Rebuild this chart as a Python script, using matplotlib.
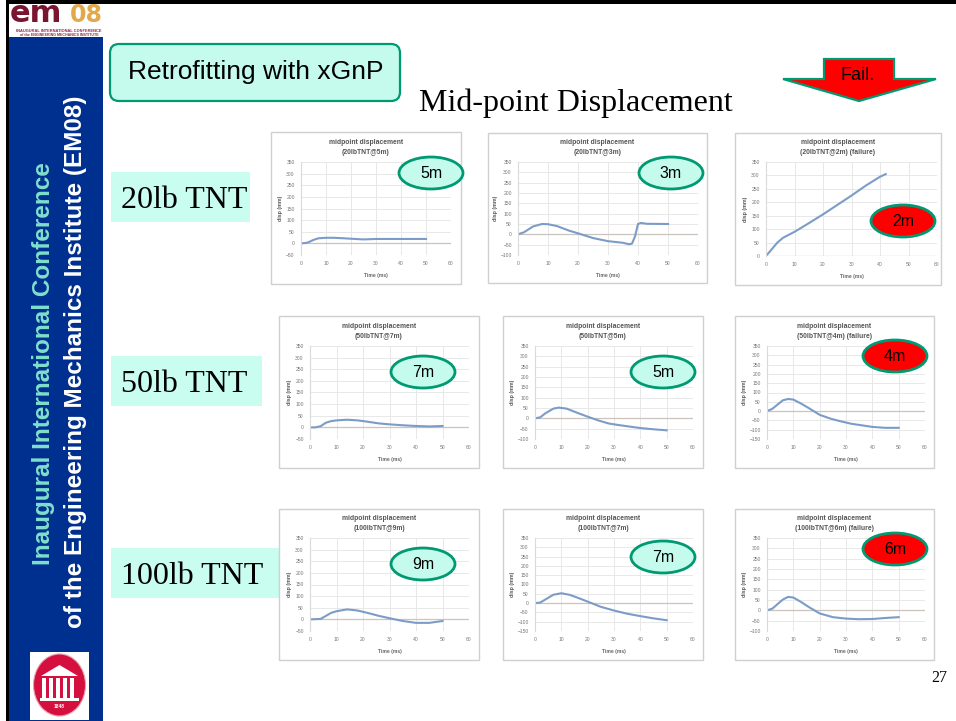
import matplotlib

matplotlib.use("Agg")

import matplotlib.pyplot as plt
from matplotlib.patches import Ellipse, FancyBboxPatch, Polygon, Rectangle

W, H = 956, 721

# data, time in ms / displacement in mm
t_20_5 = [0, 2, 3, 5, 7, 10, 13, 17, 20, 25, 30, 40, 50]
d_20_5 = [0, 2, 5, 15, 22, 24, 24, 22, 20, 17, 19, 19, 19]
t_20_3 = [0, 2, 5, 8, 10, 13, 17, 20, 25, 30, 35, 37, 38, 39, 40, 41, 43, 50]
d_20_3 = [0, 10, 38, 50, 49, 40, 18, 5, -18, -33, -41, -48, -45, -10, 50, 55, 51, 50]
t_20_2 = [0, 2, 4, 6, 10, 15, 20, 25, 30, 35, 40, 42]
d_20_2 = [0, 25, 50, 68, 90, 122, 155, 190, 225, 262, 295, 305]
t_50_7 = [0, 2, 4, 6, 8, 10, 14, 18, 22, 26, 30, 35, 40, 45, 50]
d_50_7 = [0, 0, 5, 20, 27, 30, 33, 30, 24, 17, 13, 9, 6, 4, 6]
t_50_5 = [0, 2, 4, 7, 9, 12, 16, 20, 24, 28, 32, 40, 45, 50]
d_50_5 = [0, 5, 25, 47, 52, 47, 27, 8, -10, -25, -33, -47, -53, -58]
t_50_4 = [0, 2, 4, 6, 8, 10, 13, 16, 20, 24, 28, 32, 40, 45, 50]
d_50_4 = [0, 12, 35, 58, 65, 62, 40, 15, -20, -40, -55, -68, -85, -90, -90]
t_100_9 = [0, 4, 6, 8, 10, 14, 18, 22, 26, 30, 35, 40, 45, 50]
d_100_9 = [0, 2, 15, 28, 35, 43, 38, 27, 15, 5, -7, -15, -15, -7]
t_100_7 = [0, 2, 4, 7, 10, 13, 16, 20, 25, 30, 35, 40, 45, 50]
d_100_7 = [0, 3, 20, 45, 53, 45, 30, 8, -20, -40, -57, -70, -82, -92]
t_100_6 = [0, 2, 4, 6, 8, 10, 13, 16, 20, 25, 30, 35, 40, 45, 50]
d_100_6 = [0, 8, 30, 52, 65, 62, 40, 15, -15, -33, -40, -43, -42, -37, -33]

titles = [
    "midpoint displacement\n(20lbTNT@5m)",
    "midpoint displacement\n(20lbTNT@3m)",
    "midpoint displacement\n(20lbTNT@2m) (failure)",
    "midpoint displacement\n(50lbTNT@7m)",
    "midpoint displacement\n(50lbTNT@5m)",
    "midpoint displacement\n(50lbTNT@4m) (failure)",
    "midpoint displacement\n(100lbTNT@9m)",
    "midpoint displacement\n(100lbTNT@7m)",
    "midpoint displacement\n(100lbTNT@6m) (failure)",
]
series = [
    (t_20_5, d_20_5), (t_20_3, d_20_3), (t_20_2, d_20_2),
    (t_50_7, d_50_7), (t_50_5, d_50_5), (t_50_4, d_50_4),
    (t_100_9, d_100_9), (t_100_7, d_100_7), (t_100_6, d_100_6),
]
y_floor = [-50, -100, 0, -50, -100, -150, -50, -150, -100]
distances = ["5m", "3m", "2m", "7m", "5m", "4m", "9m", "7m", "6m"]
failed = [False, False, True, False, False, True, False, False, True]
row_labels = ["20lb TNT", "50lb TNT", "100lb TNT"]

# pixel layout: box (l, t, r, b), plot (l, t, r, b), badge centre
boxes = [
    (271, 132, 461, 284), (488, 133, 707, 283), (735, 133, 941, 285),
    (279, 316, 479, 468), (503, 316, 703, 468), (735, 316, 934, 468),
    (279, 509, 479, 660), (503, 509, 703, 660), (735, 509, 934, 660),
]
plots = [
    (301, 162, 451, 255), (518, 162, 698, 255), (766, 162, 937, 256),
    (310, 346, 469, 439), (535, 346, 693, 439), (767, 346, 925, 439),
    (310, 538, 469, 631), (535, 538, 693, 631), (767, 538, 925, 631),
]
badges = [
    (431, 173), (671, 173), (903, 221),
    (423, 372), (663, 372), (895, 356),
    (423, 564), (663, 557), (895, 549),
]
row_boxes = [(111, 172, 250, 222), (111, 356, 262, 406), (111, 548, 280, 598)]

MINT = "#C4FBEC"
GREEN = "#009A72"
PALE = "#C8FDF0"
NAVY = "#00308F"

plt.rcParams["font.family"] = ["Liberation Sans", "DejaVu Sans"]

fig = plt.figure(figsize=(W / 100, H / 100), dpi=100)
fig.patch.set_facecolor("white")


def px_axes(left, top, right, bottom, **kwargs):
    return fig.add_axes(
        [left / W, 1 - bottom / H, (right - left) / W, (bottom - top) / H], **kwargs
    )


# slide layer in pixel coordinates, y pointing down
bg = px_axes(0, 0, W, H, zorder=0)
bg.set_xlim(0, W)
bg.set_ylim(H, 0)
bg.axis("off")

bg.add_patch(Rectangle((9, 37), 94, H - 37, fc=NAVY, ec="none"))
bg.add_patch(Rectangle((6, 0), 3, H, fc="black", ec="none"))
bg.add_patch(Rectangle((6, 0), W - 6, 4, fc="black", ec="none"))

# conference logo
bg.text(10, 22, "em", color="#7A1530", fontsize=22, fontweight="bold",
        family="DejaVu Sans", ha="left", va="baseline")
bg.text(70, 22, "08", color="#E2A94A", fontsize=17, fontweight="bold",
        family="DejaVu Sans", ha="left", va="baseline")
bg.text(59, 31, "INAUGURAL INTERNATIONAL CONFERENCE", color="#8A2A45",
        fontsize=2.9, fontweight="bold", ha="center", va="center")
bg.text(59, 35, "of the ENGINEERING MECHANICS INSTITUTE", color="#8A2A45",
        fontsize=2.6, fontweight="bold", ha="center", va="center")

bg.text(44, 364, "Inaugural International Conference", color="#7FE0CC", rotation=90,
        fontsize=17.5, fontweight="bold", ha="center", va="center")
bg.text(76, 362, "of the Engineering Mechanics Institute (EM08)", color="white", rotation=90,
        fontsize=17.5, fontweight="bold", ha="center", va="center")

# university seal
bg.add_patch(Rectangle((30, 652), 59, 68, fc="white", ec="none"))
bg.add_patch(Ellipse((59.5, 685), 52, 62, fc="#D5103F", ec="#E9A0B0", lw=0.8))
bg.add_patch(Polygon([(41, 676), (59.5, 665), (78, 676)], fc="white", ec="none"))
for col_x in (42, 49, 56, 63, 70):
    bg.add_patch(Rectangle((col_x, 678), 4.5, 20, fc="white", ec="none"))
bg.add_patch(Rectangle((40, 698), 39, 3, fc="white", ec="none"))
bg.text(59.5, 707, "1848", color="white", fontsize=3.5, fontweight="bold",
        ha="center", va="center")

# headline box and title
bg.add_patch(FancyBboxPatch((117, 51), 276, 43, boxstyle="round,pad=7,rounding_size=9",
                            fc=MINT, ec=GREEN, lw=1.6))
bg.text(256, 72, "Retrofitting with xGnP", color="black", fontsize=19,
        ha="center", va="center")
bg.text(576, 103, "Mid-point Displacement", color="black", fontsize=23,
        family="Liberation Serif", ha="center", va="center")

# failure arrow
arrow = [(824, 59), (894, 59), (894, 79), (936, 79), (859, 101), (783, 79), (824, 79)]
bg.add_patch(Polygon(arrow, fc="#FF0000", ec=GREEN, lw=1.6, joinstyle="miter"))
bg.text(858, 75, "Fail.", color="black", fontsize=13, ha="center", va="center")

for (l, t, r, b), label in zip(row_boxes, row_labels):
    bg.add_patch(Rectangle((l, t), r - l, b - t, fc=PALE, ec="none"))
    bg.text(l + 10, (t + b) / 2 + 3, label, color="black", fontsize=23,
            family="Liberation Serif", ha="left", va="center")

bg.text(939, 678, "27", color="black", fontsize=11.5,
        family="Liberation Serif", ha="center", va="center")

for i, (t_ms, disp) in enumerate(series):
    l, t, r, b = boxes[i]
    bg.add_patch(Rectangle((l, t), r - l, b - t, fc="white", ec="#D0D0D0", lw=1.0))
    bg.text((l + r) / 2, t + 15, titles[i], color="#555555", fontsize=4.9,
            fontweight="bold", ha="center", va="center", linespacing=1.6)

    ax = px_axes(*plots[i], zorder=1)
    ax.plot(t_ms, disp, color="#7C9CC8", lw=1.5, solid_joinstyle="round")
    ax.set_xlim(0, 60)
    ax.set_ylim(y_floor[i], 350)
    ax.set_xticks(range(0, 61, 10))
    ax.set_yticks(range(y_floor[i], 351, 50))
    ax.grid(True, color="#E8E8E8", lw=0.7)
    ax.set_axisbelow(True)
    ax.tick_params(labelsize=3.6, labelcolor="#777777", length=0, pad=4.5)
    ax.set_xlabel("Time (ms)", fontsize=3.6, fontweight="bold", color="#666666", labelpad=5)
    ax.set_ylabel("disp (mm)", fontsize=3.8, fontweight="bold", color="#555555", labelpad=2)
    for side in ("top", "right", "bottom"):
        ax.spines[side].set_visible(False)
    ax.spines["left"].set_color("#DADADA")
    ax.axhline(0, color="#C9C4BE", lw=0.9, zorder=1)

# distance badges sit above the charts
top = px_axes(0, 0, W, H, zorder=2)
top.set_xlim(0, W)
top.set_ylim(H, 0)
top.axis("off")
top.patch.set_alpha(0)
for (cx, cy), dist, bad in zip(badges, distances, failed):
    top.add_patch(Ellipse((cx, cy), 64, 32, fc="#FF0000" if bad else MINT, ec=GREEN, lw=2.0))
    top.text(cx, cy + 0.5, dist, color="black", fontsize=11.5, ha="center", va="center")

fig.savefig("out.png", dpi=100)
